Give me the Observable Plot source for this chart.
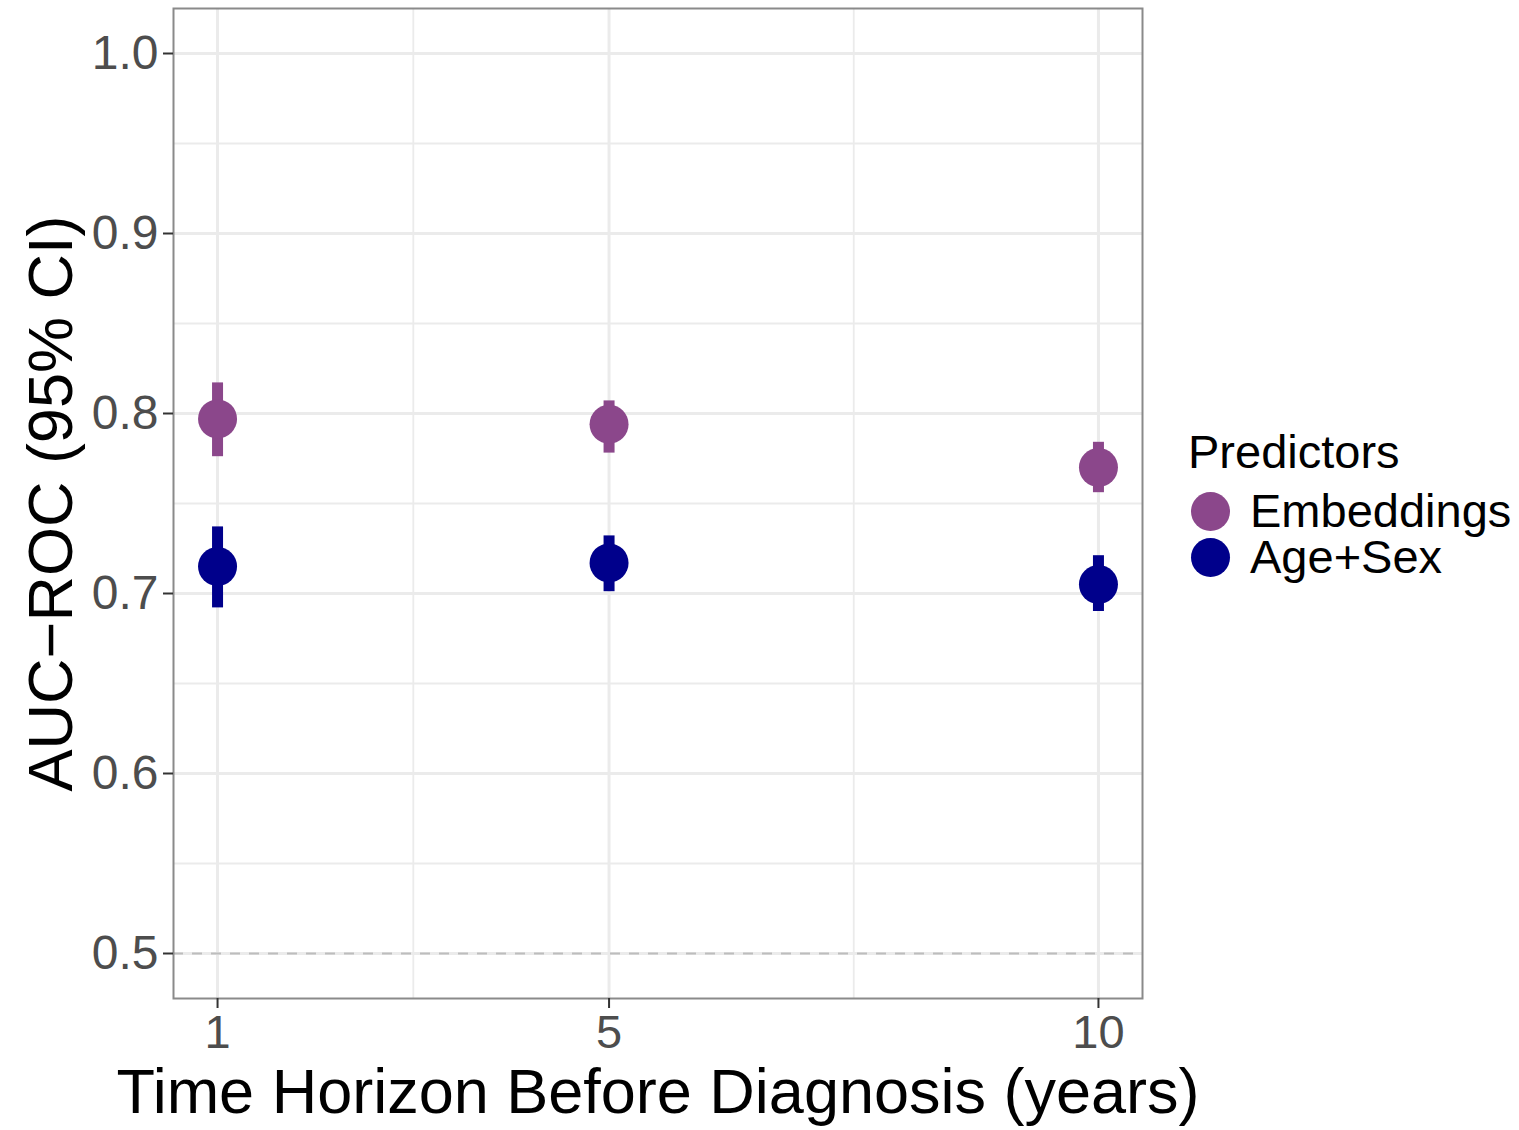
<!DOCTYPE html>
<html>
<head>
<meta charset="utf-8">
<script src="https://cdn.jsdelivr.net/npm/d3@7"></script>
<script src="https://cdn.jsdelivr.net/npm/@observablehq/plot@0.6"></script>
<style>
  body { margin: 0; background: #fff; font-family: "Liberation Sans", Arial, Helvetica, sans-serif; }
  #wrap { position: relative; width: 1519px; height: 1130px; }
  #legend { position: absolute; left: 1188px; top: 424px; color: #000; }
  .lg-title { font-size: 47px; line-height: 56px; margin-bottom: 8px; }
  .lg-row { display: flex; align-items: center; height: 46px; font-size: 47px; line-height: 44px; }
  .lg-row span { line-height: 44px; }
  .lg-dot { width: 39px; height: 39px; border-radius: 50%; margin-left: 3px; margin-right: 20px; }
</style>
</head>
<body>
<div id="wrap"></div>
<script>
// ---- data ----
const horizons = [1, 5, 10];
const seriesNames = ["Embeddings", "Age+Sex"];
const seriesColors = ["#8B478B", "#00008B"];
const embAuc = [0.797, 0.794, 0.770];
const embLo  = [0.776, 0.778, 0.756];
const embHi  = [0.817, 0.807, 0.784];
const ageAuc = [0.715, 0.717, 0.705];
const ageLo  = [0.692, 0.701, 0.690];
const ageHi  = [0.737, 0.732, 0.721];
const xTicks = [1, 5, 10];
const xMinor = [3, 7.5];
const yTicks = [0.5, 0.6, 0.7, 0.8, 0.9, 1.0];
const yMinor = [0.55, 0.65, 0.75, 0.85, 0.95];
const xLabel = "Time Horizon Before Diagnosis (years)";
const yLabel = "AUC\u2212ROC (95% CI)";
const legendTitle = "Predictors";

const rows = [];
horizons.forEach((h, i) => {
  rows.push({horizon: h, series: seriesNames[0], auc: embAuc[i], lo: embLo[i], hi: embHi[i]});
  rows.push({horizon: h, series: seriesNames[1], auc: ageAuc[i], lo: ageLo[i], hi: ageHi[i]});
});

const chart = Plot.plot({
  width: 1519,
  height: 1130,
  marginLeft: 173,
  marginRight: 377,
  marginTop: 8,
  marginBottom: 132,
  style: {fontFamily: '"Liberation Sans", Arial, Helvetica, sans-serif', background: "#fff"},
  x: {type: "linear", domain: [0.55, 10.45]},
  y: {domain: [0.475, 1.025]},
  color: {domain: seriesNames, range: seriesColors},
  marks: [
    Plot.gridX(xMinor, {stroke: "#EBEBEB", strokeOpacity: 1, strokeWidth: 1.8}),
    Plot.gridY(yMinor, {stroke: "#EBEBEB", strokeOpacity: 1, strokeWidth: 1.8}),
    Plot.gridX(xTicks, {stroke: "#EBEBEB", strokeOpacity: 1, strokeWidth: 3}),
    Plot.gridY(yTicks, {stroke: "#EBEBEB", strokeOpacity: 1, strokeWidth: 3}),
    Plot.ruleY([0.5], {stroke: "#BDBDBD", strokeWidth: 2, strokeDasharray: "10,9"}),
    Plot.frame({stroke: "#8a8a8a", strokeWidth: 2}),
    Plot.axisX(xTicks, {label: null, tickSize: 10, tickPadding: 6, stroke: "#333", strokeWidth: 2, fill: "#4D4D4D", fontSize: 47}),
    Plot.axisY(yTicks, {label: null, tickSize: 10, tickPadding: 5, stroke: "#333", strokeWidth: 2, fill: "#4D4D4D", fontSize: 48, tickFormat: d3.format(".1f")}),
    Plot.ruleX(rows, {x: "horizon", y1: "lo", y2: "hi", stroke: "series", strokeWidth: 11}),
    Plot.dot(rows, {x: "horizon", y: "auc", fill: "series", r: 19.5, stroke: null}),
    Plot.text([xLabel], {text: d => d, frameAnchor: "bottom", textAnchor: "middle", lineAnchor: "middle", dy: 94, fontSize: 63, fill: "#000"}),
    Plot.text([yLabel], {text: d => d, frameAnchor: "left", textAnchor: "middle", lineAnchor: "middle", dx: -122, rotate: -90, fontSize: 63, fill: "#000"})
  ]
});

const wrap = document.getElementById("wrap");
wrap.appendChild(chart);

// legend (HTML, next to the plot)
const lg = document.createElement("div");
lg.id = "legend";
const t = document.createElement("div");
t.className = "lg-title";
t.textContent = legendTitle;
lg.appendChild(t);
seriesNames.forEach((name, i) => {
  const row = document.createElement("div");
  row.className = "lg-row";
  const dot = document.createElement("div");
  dot.className = "lg-dot";
  dot.style.background = seriesColors[i];
  const lab = document.createElement("span");
  lab.textContent = name;
  row.appendChild(dot);
  row.appendChild(lab);
  lg.appendChild(row);
});
wrap.appendChild(lg);
</script>
</body>
</html>
